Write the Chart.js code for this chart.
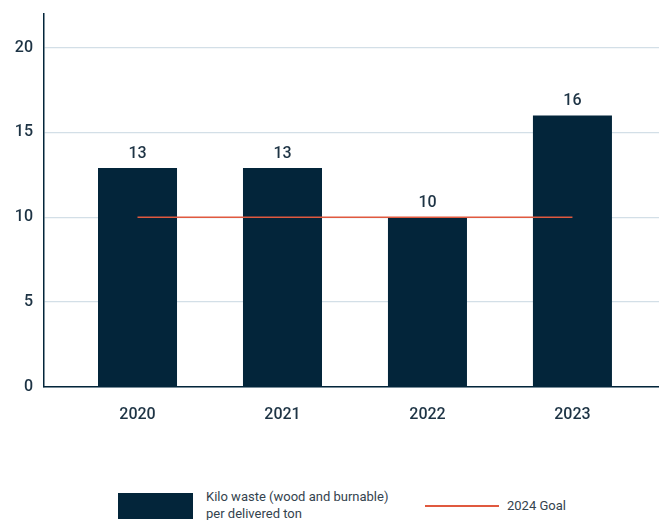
<!DOCTYPE html>
<html>
<head>
<meta charset="utf-8">
<script src="https://cdn.jsdelivr.net/npm/chart.js@4"></script>
<style>
  body { margin: 0; background: #fff; font-family: Roboto, sans-serif; }
  #wrap { position: relative; width: 659px; height: 520px; overflow: hidden; }
  #box { position: absolute; left: 0; top: -7px; width: 659px; height: 442px; }
  .legend { position: absolute; color: #34434e; font-size: 13px; line-height: 17px; }
</style>
</head>
<body>
<div id="wrap">
  <div id="box"><canvas id="wasteChart"></canvas></div>
  <div class="legend" style="left:118px; top:493px; width:75px; height:26px; background:#03253a;"></div>
  <div class="legend" style="left:206px; top:488px;">Kilo waste (wood and burnable)<br>per delivered ton</div>
  <div class="legend" style="left:425px; top:505px; width:74px; height:2px; background:#e0593f;"></div>
  <div class="legend" style="left:507px; top:497px;">2024 Goal</div>
</div>
<script>
// Données
const years = ['2020', '2021', '2022', '2023'];
const wasteValues = [12.9, 12.9, 10, 16];
const goalValues = [10, 10, 10, 10];
const yTicks = [0, 5, 10, 15, 20];

const navy = '#03253a';
const goalRed = '#e0593f';
const textColor = '#1d3344';

// Étiquettes de valeur au-dessus des barres
const valueLabels = {
  id: 'valueLabels',
  afterDatasetsDraw(chart) {
    const ctx = chart.ctx;
    const meta = chart.getDatasetMeta(1);
    ctx.save();
    ctx.font = '500 16px Roboto';
    ctx.fillStyle = textColor;
    ctx.textAlign = 'center';
    ctx.textBaseline = 'bottom';
    meta.data.forEach((bar, i) => {
      ctx.fillText(Math.round(wasteValues[i]), bar.x, bar.y - 6);
    });
    ctx.restore();
  }
};

const ctx = document.getElementById('wasteChart').getContext('2d');
new Chart(ctx, {
  data: {
    datasets: [
      {
        type: 'line',
        label: '2024 Goal',
        data: goalValues.map((v, i) => ({ x: i, y: v })),
        borderColor: goalRed,
        borderWidth: 1.5,
        pointRadius: 0,
        order: 0
      },
      {
        type: 'bar',
        label: 'Kilo waste (wood and burnable) per delivered ton',
        data: wasteValues.map((v, i) => ({ x: i, y: v })),
        backgroundColor: navy,
        borderWidth: 0,
        categoryPercentage: 1,
        barPercentage: 0.545,
        order: 1
      }
    ]
  },
  options: {
    responsive: true,
    maintainAspectRatio: false,
    animation: false,
    layout: { padding: { top: 4, right: 0, left: 0, bottom: 0 } },
    plugins: {
      legend: { display: false },
      tooltip: { enabled: false }
    },
    scales: {
      x: {
        type: 'linear',
        offset: false,
        min: -0.645,
        max: 3.597,
        grid: { display: false },
        border: { display: true, color: navy, width: 1.5 },
        afterBuildTicks: scale => { scale.ticks = years.map((y, i) => ({ value: i })); },
        ticks: {
          padding: 10.5,
          color: textColor,
          font: { family: 'Roboto', size: 16, weight: '500' },
          callback: v => years[v]
        }
      },
      y: {
        min: 0,
        max: 22,
        grid: { color: '#d3dfe7', lineWidth: 1.2, drawTicks: false },
        border: { display: true, color: navy, width: 1.5 },
        afterBuildTicks: scale => { scale.ticks = yTicks.map(v => ({ value: v })); },
        afterFit: scale => { scale.width = 44; },
        ticks: {
          padding: 11,
          color: textColor,
          font: { family: 'Roboto', size: 16, weight: '500' }
        }
      }
    }
  },
  plugins: [valueLabels]
});
</script>
</body>
</html>
